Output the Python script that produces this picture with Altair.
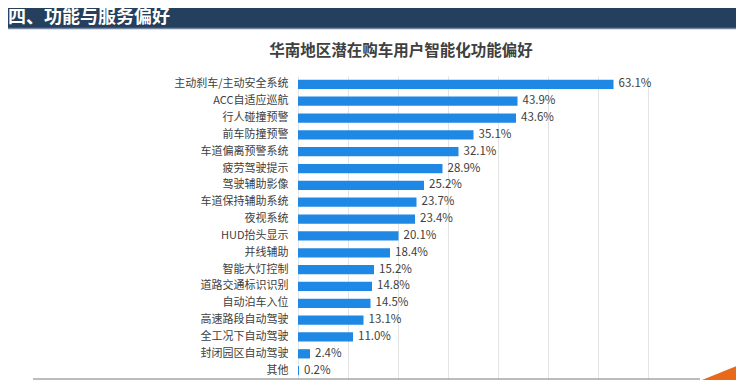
import altair as alt
import pandas as pd

categories = [
    "主动刹车/主动安全系统", "ACC自适应巡航", "行人碰撞预警", "前车防撞预警",
    "车道偏离预警系统", "疲劳驾驶提示", "驾驶辅助影像", "车道保持辅助系统",
    "夜视系统", "HUD抬头显示", "并线辅助", "智能大灯控制", "道路交通标识识别",
    "自动泊车入位", "高速路段自动驾驶", "全工况下自动驾驶", "封闭园区自动驾驶", "其他",
]
values = [63.1, 43.9, 43.6, 35.1, 32.1, 28.9, 25.2, 23.7, 23.4, 20.1,
          18.4, 15.2, 14.8, 14.5, 13.1, 11.0, 2.4, 0.2]
x_ticks = [0, 10, 20, 30, 40, 50, 60, 70]
header_text = ["四、功能与服务偏好"]
title_text = ["华南地区潜在购车用户智能化功能偏好"]

FONT = "Noto Sans CJK SC"
df = pd.DataFrame({"cat": categories, "val": values})
df["label"] = [f"{v:.1f}%" for v in values]

x_enc = alt.X("val:Q", scale=alt.Scale(domain=[0, 70], nice=False),
              axis=alt.Axis(values=x_ticks, labels=False, ticks=False, domain=False,
                            title=None, grid=True, gridColor="#e4e4e4", gridWidth=1))
y_enc = alt.Y("cat:N", sort=categories,
              scale=alt.Scale(paddingInner=0.45, paddingOuter=0.22),
              axis=alt.Axis(title=None, ticks=False, domain=False, labelFont=FONT,
                            labelFontSize=11, labelColor="#404040", labelPadding=10,
                            labelLimit=200))

bars = alt.Chart(df).mark_bar(color="#1f88e5").encode(x=x_enc, y=y_enc)
texts = alt.Chart(df).mark_text(align="left", baseline="middle", dx=5, font=FONT,
                                fontSize=11.5, color="#404040").encode(
    x="val:Q", y=alt.Y("cat:N", sort=categories), text="label:N")

one = pd.DataFrame({"a": [0]})
header_bg = alt.Chart(one).mark_rect(color="#253f5e").encode(
    x=alt.value(-290), x2=alt.value(438), y=alt.value(-68), y2=alt.value(-48))
header_line = alt.Chart(one).mark_rule(color="#7486a0", strokeWidth=1.5).encode(
    x=alt.value(-290), x2=alt.value(438), y=alt.value(-47.5))
header = alt.Chart(pd.DataFrame({"t": header_text})).mark_text(
    align="left", baseline="alphabetic", font=FONT, fontSize=18, fontWeight="bold",
    color="white").encode(x=alt.value(-290), y=alt.value(-53), text="t:N")
title = alt.Chart(pd.DataFrame({"t": title_text})).mark_text(
    align="center", baseline="middle", font=FONT, fontSize=15.5, fontWeight="bold",
    color="#404040").encode(x=alt.value(103), y=alt.value(-25.5), text="t:N")
bottom_line = alt.Chart(one).mark_rule(color="#a6a6a6", strokeWidth=1.5).encode(
    x=alt.value(-265), x2=alt.value(402), y=alt.value(303))
orange = alt.Chart(one).mark_point(
    shape="M-0.767,0.067 L0.8,-0.567 L0.8,0.67 L-1,0.67 Z", filled=True,
    color="#e8691a", opacity=1, size=3600).encode(x=alt.value(422), y=alt.value(304))

chart = alt.layer(header_bg, header_line, header, title, bars, texts, bottom_line, orange).properties(
    width=350, height=303,
    padding={"left": 290, "top": 68, "right": 88, "bottom": 1},
    autosize=alt.AutoSizeParams(type="none"),
    background="white",
).configure_view(stroke=None)

chart.save("out.html", embed_options={"renderer": "svg", "actions": False})
